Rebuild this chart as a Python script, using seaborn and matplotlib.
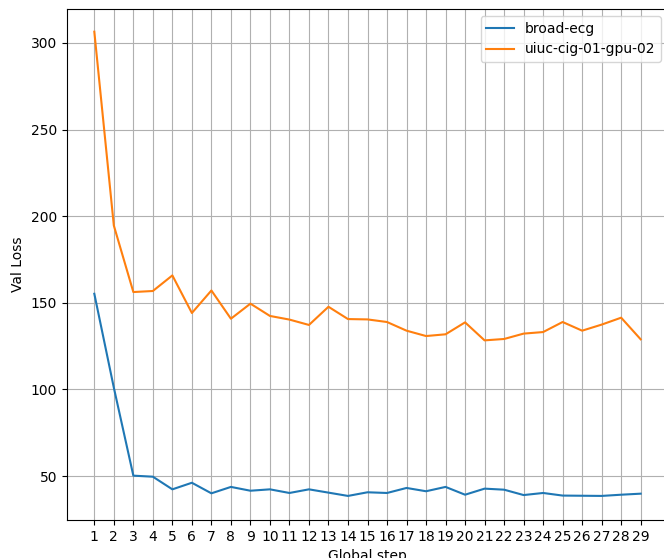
import matplotlib
matplotlib.use("Agg")
import matplotlib.pyplot as plt
import seaborn as sns
import pandas as pd

steps = list(range(1, 30))
broad_ecg = [155.2, 101.0, 50.2, 49.6, 42.3, 46.1, 40.0, 43.7, 41.5, 42.3,
             40.2, 42.3, 40.4, 38.5, 40.6, 40.2, 43.1, 41.2, 43.7, 39.2,
             42.7, 42.1, 39.0, 40.2, 38.7, 38.6, 38.5, 39.2, 39.8]
uiuc_gpu02 = [306.5, 194.6, 156.2, 156.8, 165.8, 144.1, 157.1, 140.8, 149.5, 142.4,
              140.3, 137.2, 147.7, 140.6, 140.4, 138.9, 133.9, 130.8, 131.8, 138.7,
              128.3, 129.1, 132.2, 133.1, 138.9, 133.9, 137.4, 141.4, 128.9]
series_names = ["broad-ecg", "uiuc-cig-01-gpu-02"]
colors = ["#1f77b4", "#ff7f0e"]

fig = plt.figure(figsize=(6.64, 5.58), dpi=100)
ax = fig.add_axes([67 / 664, 1 - 520 / 558, (668 - 67) / 664, (520 - 9) / 558])

for name, vals, c in zip(series_names, [broad_ecg, uiuc_gpu02], colors):
    df = pd.DataFrame({"step": steps, "loss": vals})
    sns.lineplot(data=df, x="step", y="loss", ax=ax, color=c, label=name, linewidth=1.5)

ax.set_xticks(steps)
ax.set_xticklabels([str(s) for s in steps])
ax.set_xlim(1 - 1.4, 29 + 1.4)
ax.set_ylim(24.6, 319.6)
ax.set_yticks([50, 100, 150, 200, 250, 300])
ax.grid(True, color="#b0b0b0", linewidth=0.8)
ax.set_axisbelow(True)
ax.set_xlabel("Global step")
ax.set_ylabel("Val Loss")
ax.legend(loc="upper right")

fig.savefig("out.png", dpi=100)
